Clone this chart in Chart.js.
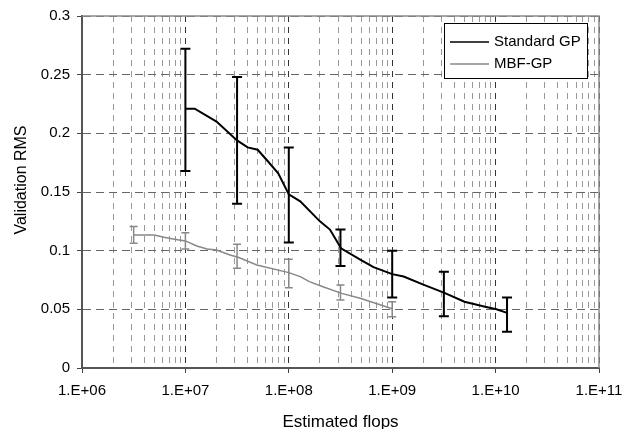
<!DOCTYPE html>
<html lang="en">
<head>
<meta charset="UTF-8">
<title>Validation RMS vs estimated flops</title>
<script src="https://cdn.jsdelivr.net/npm/chart.js"></script>
<style>
  body { margin: 0; padding: 0; background: #fff; }
  #wrap { width: 624px; height: 429px; }
</style>
</head>
<body>
<div id="wrap"><canvas id="chart" width="624" height="429"></canvas></div>
<script>
    const FONT = '"Liberation Sans", Arial, Helvetica, sans-serif';

    // Standard GP curve (x = estimated flops, y = validation RMS)
    const stdX = [1.0e7, 1.23e7, 2.0e7, 3.16e7, 4.0e7, 5.0e7, 6.3e7, 7.9e7, 1.0e8, 1.29e8, 2.0e8, 2.5e8,
                  3.2e8, 5.0e8, 6.6e8, 1.0e9, 1.29e9, 2.0e9, 3.2e9, 5.0e9, 8.1e9, 1.02e10, 1.29e10];
    const stdY = [0.221, 0.221, 0.210, 0.194, 0.188, 0.186, 0.176, 0.166, 0.148, 0.142, 0.125, 0.118,
                  0.102, 0.092, 0.086, 0.080, 0.078, 0.071, 0.064, 0.0565, 0.052, 0.050, 0.047];
    // Standard GP error bars
    const stdErrX  = [1e7, 3.16e7, 1e8, 3.16e8, 1e9, 3.16e9, 1.29e10];
    const stdErrHi = [0.272, 0.248, 0.188, 0.118, 0.100, 0.082, 0.060];
    const stdErrLo = [0.168, 0.140, 0.107, 0.087, 0.060, 0.044, 0.031];

    // MBF-GP curve
    const mbfX = [3.16e6, 5.0e6, 6.2e6, 7.6e6, 1.0e7, 1.29e7, 1.62e7, 2.0e7, 2.7e7, 3.24e7, 4.9e7,
                  1.0e8, 1.29e8, 1.58e8, 2.14e8, 3.24e8, 4.9e8, 1.0e9];
    const mbfY = [0.1134, 0.1134, 0.1114, 0.1100, 0.1083, 0.1040, 0.1014, 0.1006, 0.0963, 0.0944, 0.0878,
                  0.0813, 0.0779, 0.0736, 0.0693, 0.0636, 0.0594, 0.0505];
    // MBF-GP error bars
    const mbfErrX  = [3.16e6, 1e7, 3.16e7, 1e8, 3.16e8, 1e9];
    const mbfErrHi = [0.1205, 0.1153, 0.1054, 0.0927, 0.0708, 0.0565];
    const mbfErrLo = [0.1063, 0.1014, 0.0850, 0.0685, 0.0580, 0.0437];

    // axis ticks
    const xTickValues = [1e6, 1e7, 1e8, 1e9, 1e10, 1e11];
    const xTickLabels = ['1.E+06', '1.E+07', '1.E+08', '1.E+09', '1.E+10', '1.E+11'];
    const yTickValues = [0, 0.05, 0.1, 0.15, 0.2, 0.25, 0.3];
    const yTickLabels = ['0', '0.05', '0.1', '0.15', '0.2', '0.25', '0.3'];

    const seriesNames = ['Standard GP', 'MBF-GP'];
    const seriesColors = ['#000000', '#888888'];

    const toPoints = (xs, ys) => xs.map((v, i) => ({ x: v, y: ys[i] }));
    const isDecade = v => xTickValues.includes(v);

    const errSets = [
        { xs: stdErrX, hi: stdErrHi, lo: stdErrLo, color: seriesColors[0], width: 2, cap: 5 },
        { xs: mbfErrX, hi: mbfErrHi, lo: mbfErrLo, color: seriesColors[1], width: 1.5, cap: 4 }
    ];

    // error bars, frame, axis titles and the boxed legend
    const extras = {
        id: 'extras',
        beforeDatasetsDraw(chart) {
            const { ctx, chartArea: a } = chart;
            ctx.save();
            ctx.strokeStyle = '#8a8a8a';
            ctx.lineWidth = 1.5;
            ctx.beginPath();
            ctx.moveTo(a.left, a.top);
            ctx.lineTo(a.right, a.top);
            ctx.lineTo(a.right, a.bottom);
            ctx.stroke();
            ctx.restore();
        },
        afterDatasetsDraw(chart) {
            const { ctx, scales: { x, y } } = chart;
            errSets.forEach(s => {
                ctx.save();
                ctx.strokeStyle = s.color;
                ctx.lineWidth = s.width;
                s.xs.forEach((v, i) => {
                    const px = x.getPixelForValue(v);
                    const yh = y.getPixelForValue(s.hi[i]);
                    const yl = y.getPixelForValue(s.lo[i]);
                    ctx.beginPath();
                    ctx.moveTo(px, yh); ctx.lineTo(px, yl);
                    ctx.moveTo(px - s.cap, yh); ctx.lineTo(px + s.cap, yh);
                    ctx.moveTo(px - s.cap, yl); ctx.lineTo(px + s.cap, yl);
                    ctx.stroke();
                });
                ctx.restore();
            });
        },
        afterDraw(chart) {
            const { ctx, chartArea: a } = chart;
            ctx.save();
            ctx.fillStyle = '#000';
            // x title
            ctx.font = '17px ' + FONT;
            ctx.textAlign = 'center';
            ctx.textBaseline = 'alphabetic';
            ctx.fillText('Estimated flops', (a.left + a.right) / 2, 427);
            // y title
            ctx.save();
            ctx.translate(26, 180);
            ctx.rotate(-Math.PI / 2);
            ctx.font = '16px ' + FONT;
            ctx.fillText('Validation RMS', 0, 0);
            ctx.restore();

            // legend box
            const lx = 444, ly = 23, lw = 143, lh = 55;
            ctx.fillStyle = '#fff';
            ctx.fillRect(lx, ly, lw, lh);
            ctx.strokeStyle = '#000';
            ctx.lineWidth = 1;
            ctx.strokeRect(lx + 0.5, ly + 0.5, lw, lh);
            ctx.font = '15px ' + FONT;
            ctx.textAlign = 'left';
            ctx.textBaseline = 'middle';
            chart.data.datasets.forEach((ds, i) => {
                const yy = ly + 19 + i * 22;
                ctx.strokeStyle = ds.borderColor;
                ctx.lineWidth = 1.5;
                ctx.beginPath();
                ctx.moveTo(lx + 6, yy);
                ctx.lineTo(lx + 45, yy);
                ctx.stroke();
                ctx.fillStyle = '#000';
                ctx.fillText(ds.label, lx + 50, yy);
            });
            ctx.restore();
        }
    };

    new Chart(document.getElementById('chart'), {
        type: 'line',
        data: {
            datasets: [
                {
                    label: seriesNames[0],
                    data: toPoints(stdX, stdY),
                    borderColor: seriesColors[0],
                    borderWidth: 2,
                    pointRadius: 0,
                    tension: 0,
                    fill: false
                },
                {
                    label: seriesNames[1],
                    data: toPoints(mbfX, mbfY),
                    borderColor: seriesColors[1],
                    borderWidth: 1.5,
                    pointRadius: 0,
                    tension: 0,
                    fill: false
                }
            ]
        },
        options: {
            responsive: false,
            animation: false,
            layout: { padding: { top: 16, right: 25, bottom: 0, left: 0 } },
            plugins: {
                legend: { display: false },
                tooltip: { enabled: false }
            },
            scales: {
                x: {
                    type: 'logarithmic',
                    min: 1e6,
                    max: 1e11,
                    afterBuildTicks: scale => {
                        // decades plus 2..9 minor lines in between
                        const t = [];
                        xTickValues.forEach((d, i) => {
                            t.push({ value: d });
                            if (i < xTickValues.length - 1) {
                                for (let m = 2; m <= 9; m++) t.push({ value: m * d });
                            }
                        });
                        scale.ticks = t;
                    },
                    afterFit: scale => {
                        scale.height = 61;
                        scale.paddingLeft = 0;
                        scale.paddingRight = 0;
                    },
                    ticks: {
                        autoSkip: false,
                        maxRotation: 0,
                        padding: 9,
                        color: '#000',
                        font: { family: FONT, size: 15 },
                        callback: v => isDecade(v) ? xTickLabels[xTickValues.indexOf(v)] : ''
                    },
                    grid: {
                        color: c => isDecade(c.tick.value) ? '#333' : '#999',
                        lineWidth: 1,
                        tickLength: 5,
                        tickColor: c => isDecade(c.tick.value) ? '#444' : 'rgba(0,0,0,0)'
                    },
                    border: { color: '#555', width: 2, dash: [6, 5] }
                },
                y: {
                    min: 0,
                    max: 0.3,
                    afterBuildTicks: scale => { scale.ticks = yTickValues.map(v => ({ value: v })); },
                    afterFit: scale => {
                        scale.width = 82;
                        scale.paddingTop = 0;
                        scale.paddingBottom = 0;
                    },
                    ticks: {
                        padding: 7,
                        color: '#000',
                        font: { family: FONT, size: 15 },
                        callback: (v, i) => yTickLabels[i]
                    },
                    grid: {
                        color: '#666',
                        lineWidth: 1,
                        tickLength: 5,
                        tickColor: '#444'
                    },
                    border: { color: '#555', width: 2, dash: [8, 5] }
                }
            }
        },
        plugins: [extras]
    });
</script>
</body>
</html>
